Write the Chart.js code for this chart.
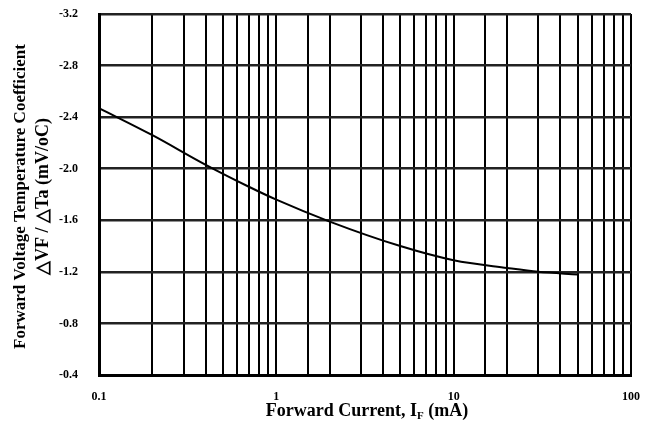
<!DOCTYPE html>
<html>
<head>
<meta charset="utf-8">
<script src="https://cdn.jsdelivr.net/npm/chart.js@4/dist/chart.umd.min.js"></script>
<style>
  body { margin: 0; background: #fff; }
  #chart { display: block; }
</style>
</head>
<body>
<canvas id="chart" width="656" height="423"></canvas>
<script>
// forward current (mA) and temperature coefficient (mV/oC)
var current = [0.1, 0.2, 0.4, 0.7, 1, 2, 5, 10, 20, 30, 50];
var coeff = [-2.47, -2.26, -2.03, -1.86, -1.76, -1.59, -1.40, -1.29, -1.23, -1.20, -1.18];
var xLabels = [0.1, 1, 10, 100];
var yTicks = [-3.2, -2.8, -2.4, -2.0, -1.6, -1.2, -0.8, -0.4];

var serif = "'Liberation Serif', 'Times New Roman', serif";

var points = current.map(function(c, i) { return {x: c, y: coeff[i]}; });

function isDecade(v) {
    var l = Math.log10(v);
    return Math.abs(l - Math.round(l)) < 1e-6;
}

// axis titles drawn by hand so the subscript F fits
var titles = {
    id: 'titles',
    afterDraw: function(chart) {
        var ctx = chart.ctx;
        var area = chart.chartArea;
        ctx.save();
        ctx.fillStyle = '#000';
        ctx.textBaseline = 'middle';

        // x title: Forward Current, I_F (mA)
        var big = 'bold 18px ' + serif;
        var small = 'bold 11px ' + serif;
        var a = 'Forward Current, I', b = 'F', c = ' (mA)';
        ctx.font = big;
        var wa = ctx.measureText(a).width, wc = ctx.measureText(c).width;
        ctx.font = small;
        var wb = ctx.measureText(b).width;
        var cx = 367;
        var x0 = cx - (wa + wb + wc) / 2;
        var y0 = 411;
        ctx.textAlign = 'left';
        ctx.font = big;
        ctx.fillText(a, x0, y0);
        ctx.font = small;
        ctx.fillText(b, x0 + wa, y0 + 5);
        ctx.font = big;
        ctx.fillText(c, x0 + wa + wb, y0);

        // y title, two lines rotated
        var cy = (area.top + area.bottom) / 2 + 2;
        ctx.translate(0, cy);
        ctx.rotate(-Math.PI / 2);
        ctx.textAlign = 'center';
        ctx.font = 'bold 17px ' + serif;
        ctx.fillText('Forward Voltage Temperature Coefficient', 0, 21);
        ctx.font = 'bold 18px ' + serif;
        ctx.fillText('\u25B3VF / \u25B3Ta (mV/oC)', 0, 43);
        ctx.restore();
    }
};

var ctx = document.getElementById('chart').getContext('2d');

var myChart = new Chart(ctx, {
    type: 'line',
    data: {
        datasets: [{
            data: points,
            borderColor: '#000',
            borderWidth: 2,
            pointRadius: 0,
            fill: false,
            cubicInterpolationMode: 'monotone'
        }]
    },
    options: {
        responsive: false,
        animation: false,
        layout: {
            padding: {top: 14, right: 25, left: 0, bottom: 0}
        },
        plugins: {
            legend: {display: false},
            tooltip: {enabled: false}
        },
        scales: {
            x: {
                type: 'logarithmic',
                min: 0.1,
                max: 100,
                afterFit: function(scale) {
                    scale.height = 48;
                    scale.paddingLeft = 0;
                    scale.paddingRight = 0;
                },
                grid: {
                    color: '#000',
                    lineWidth: 2,
                    drawTicks: false
                },
                border: {color: '#000', width: 3},
                ticks: {
                    autoSkip: false,
                    maxRotation: 0,
                    padding: 15,
                    color: '#000',
                    font: {family: serif, size: 12, weight: 'bold'},
                    callback: function(v) {
                        if (!isDecade(v)) return '';
                        var hit = xLabels.filter(function(l) { return Math.abs(l - v) / l < 1e-6; });
                        return hit.length ? String(hit[0]) : '';
                    }
                }
            },
            y: {
                reverse: true,
                min: yTicks[0],
                max: yTicks[yTicks.length - 1],
                afterFit: function(scale) {
                    scale.width = 99;
                    scale.paddingTop = 0;
                    scale.paddingBottom = 0;
                },
                afterBuildTicks: function(scale) {
                    scale.ticks = yTicks.map(function(v) { return {value: v}; });
                },
                grid: {
                    color: '#222',
                    lineWidth: 2.5,
                    drawTicks: false
                },
                border: {color: '#000', width: 3},
                ticks: {
                    padding: 21,
                    color: '#000',
                    font: {family: serif, size: 12, weight: 'bold'},
                    callback: function(v) { return v.toFixed(1); }
                }
            }
        }
    },
    plugins: [titles]
});
</script>
</body>
</html>
